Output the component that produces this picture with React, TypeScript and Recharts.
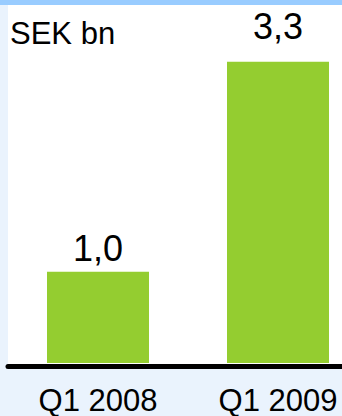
import { BarChart, Bar, XAxis, YAxis, LabelList } from "recharts";

const quarters = ["Q1 2008", "Q1 2009"];
const values = [1.0, 3.3];
const valueLabels = ["1,0", "3,3"];
const unitLabel = "SEK bn";

const data = quarters.map((q, i) => ({ name: q, value: values[i], label: valueLabels[i] }));

const FONT = "'Liberation Sans', Arial, sans-serif";

// the second label sits higher above its bar than the first one
const labelOffsets = [11, 23];

const renderValue = (props: any) => {
  const { x, y, width, index, value } = props;
  return (
    <text
      x={Number(x) + Number(width) / 2}
      y={Number(y) - labelOffsets[index]}
      textAnchor="middle"
      fontSize={36}
      fontFamily={FONT}
      fill="#000"
    >
      {value}
    </text>
  );
};

export default function App() {
  return (
    <div
      style={{
        position: "fixed",
        left: 0,
        top: 0,
        width: 342,
        height: 416,
        overflow: "hidden",
        background: "#EAF3FD",
      }}
    >
      <div style={{ position: "absolute", left: 0, top: 0, width: 342, height: 5, background: "#99CCFF" }} />
      <div style={{ position: "absolute", left: 8, top: 5, width: 334, height: 359, background: "#fff" }} />
      <div style={{ position: "absolute", left: 0, top: 0 }}>
        <BarChart
          width={368}
          height={416}
          data={data}
          margin={{ top: 7, right: 0, left: 8, bottom: 0 }}
          barCategoryGap={39}
        >
          <YAxis hide domain={[0, 3.9]} />
          <XAxis
            dataKey="name"
            height={53}
            tickLine={false}
            tickSize={0}
            tickMargin={26}
            axisLine={{ stroke: "#000", strokeWidth: 5, strokeLinecap: "round", transform: "translate(0,3.5)" }}
            tick={{ fill: "#000", fontSize: 31, fontFamily: FONT }}
            interval={0}
          />
          <Bar dataKey="value" fill="#94CD30" barSize={102} isAnimationActive={false}>
            <LabelList dataKey="label" content={renderValue} />
          </Bar>
        </BarChart>
      </div>
      <svg width={342} height={60} style={{ position: "absolute", left: 0, top: 0 }}>
        <text x={10} y={44} fontSize={31} fontFamily={FONT} fill="#000">
          {unitLabel}
        </text>
      </svg>
    </div>
  );
}
